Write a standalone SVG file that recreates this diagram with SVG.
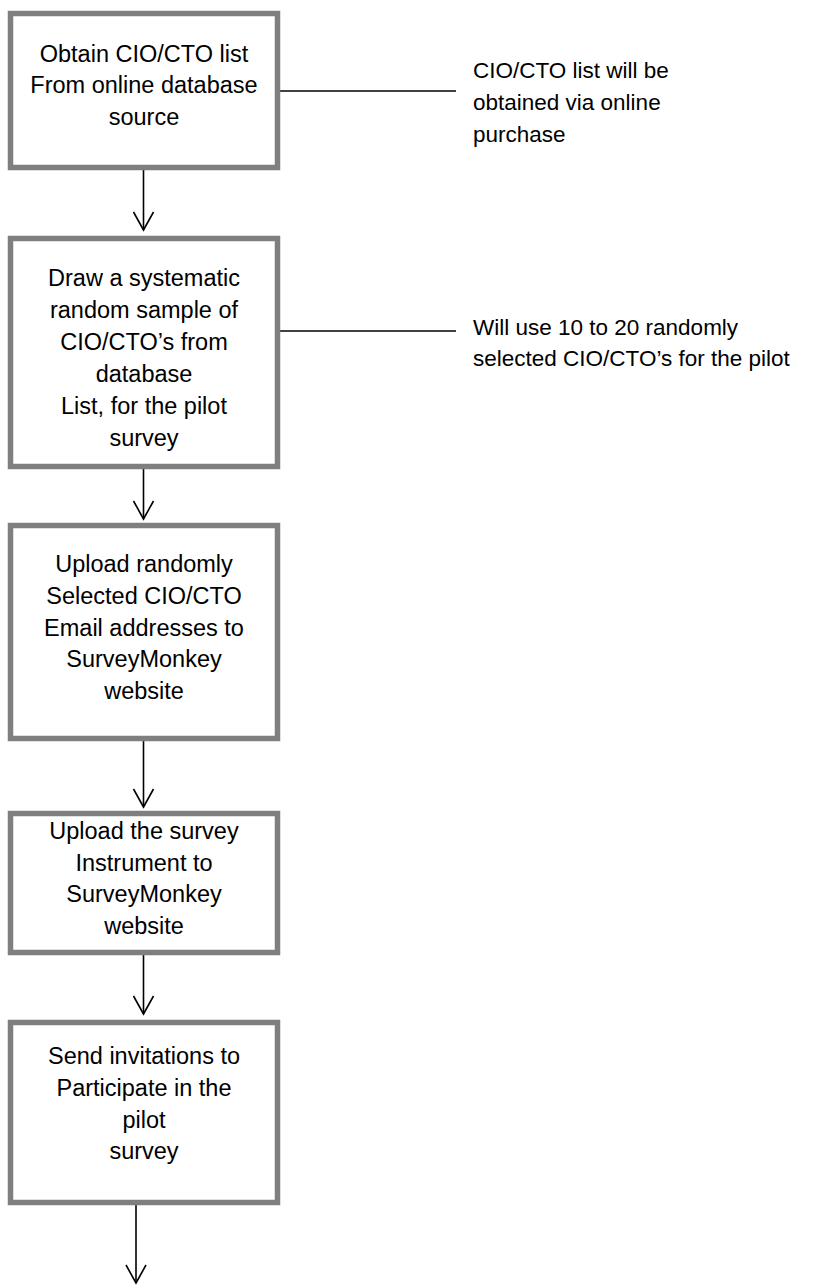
<svg xmlns="http://www.w3.org/2000/svg" width="838" height="1285" viewBox="0 0 838 1285">
<style>
.box{fill:#ffffff;stroke:#7f7f7f;stroke-width:5.5}
.t{font-family:"Liberation Sans",Arial,sans-serif;font-size:23.5px;fill:#000000;text-anchor:middle}
.n{font-family:"Liberation Sans",Arial,sans-serif;font-size:22.5px;fill:#000000}
.c{stroke:#000000;stroke-width:1.6;fill:none}
</style>
<defs>
<marker id="arr" markerUnits="userSpaceOnUse" markerWidth="24" markerHeight="24" viewBox="-20 -12 22 24" refX="0" refY="0" orient="auto" overflow="visible">
<path d="M-18,-10 L0,0 L-18,10" fill="none" stroke="#000" stroke-width="1.6"/>
</marker>
</defs>
<rect width="838" height="1285" fill="#ffffff"/>
<g id="connectors">
<line class="c" x1="143.5" y1="170" x2="143.5" y2="230" marker-end="url(#arr)"/>
<line class="c" x1="143.5" y1="469" x2="143.5" y2="519" marker-end="url(#arr)"/>
<line class="c" x1="143.5" y1="741" x2="143.5" y2="807" marker-end="url(#arr)"/>
<line class="c" x1="143.5" y1="955" x2="143.5" y2="1014" marker-end="url(#arr)"/>
<line class="c" x1="136" y1="1194" x2="136" y2="1283" marker-end="url(#arr)"/>
<line class="c" x1="280" y1="91" x2="456" y2="91"/>
<line class="c" x1="280" y1="331" x2="456" y2="331"/>
</g>
<g id="node1">
<rect class="box" x="10.5" y="13.5" width="267" height="154"/>
<text class="t" x="144" y="62">Obtain CIO/CTO list</text>
<text class="t" x="144" y="93">From online database</text>
<text class="t" x="144" y="125">source</text>
</g>
<g id="node2">
<rect class="box" x="10.5" y="238.5" width="267" height="228"/>
<text class="t" x="144" y="286">Draw a systematic</text>
<text class="t" x="144" y="318">random sample of</text>
<text class="t" x="144" y="350">CIO/CTO’s from</text>
<text class="t" x="144" y="382">database</text>
<text class="t" x="144" y="414">List, for the pilot</text>
<text class="t" x="144" y="446">survey</text>
</g>
<g id="node3">
<rect class="box" x="10.5" y="525.5" width="267" height="213"/>
<text class="t" x="144" y="572">Upload randomly</text>
<text class="t" x="144" y="604">Selected CIO/CTO</text>
<text class="t" x="144" y="636">Email addresses to</text>
<text class="t" x="144" y="667">SurveyMonkey</text>
<text class="t" x="144" y="699">website</text>
</g>
<g id="node4">
<rect class="box" x="10.5" y="813.5" width="267" height="139"/>
<text class="t" x="144" y="839">Upload the survey</text>
<text class="t" x="144" y="871">Instrument to</text>
<text class="t" x="144" y="902">SurveyMonkey</text>
<text class="t" x="144" y="934">website</text>
</g>
<g id="node5">
<rect class="box" x="10.5" y="1022.5" width="267" height="180"/>
<text class="t" x="144" y="1064">Send invitations to</text>
<text class="t" x="144" y="1096">Participate in the</text>
<text class="t" x="144" y="1128">pilot</text>
<text class="t" x="144" y="1159">survey</text>
</g>
<g id="note1">
<text class="n" x="473" y="78">CIO/CTO list will be</text>
<text class="n" x="473" y="110">obtained via online</text>
<text class="n" x="473" y="142">purchase</text>
</g>
<g id="note2">
<text class="n" x="473" y="335">Will use 10 to 20 randomly</text>
<text class="n" x="473" y="366">selected CIO/CTO’s for the pilot</text>
</g>
</svg>
